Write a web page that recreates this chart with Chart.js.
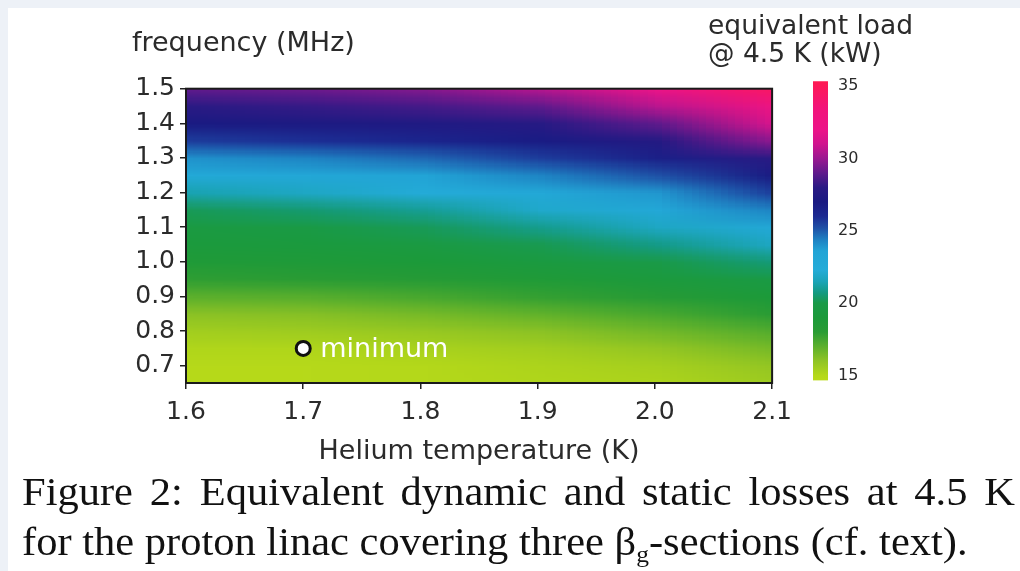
<!DOCTYPE html>
<html>
<head>
<meta charset="utf-8">
<script src="https://cdn.jsdelivr.net/npm/chart.js@4.4.1/dist/chart.umd.min.js"></script>
<style>
  html, body { margin: 0; padding: 0; }
  body { width: 1020px; height: 571px; background: #edf1f7; position: relative; overflow: hidden; }
  #panel { position: absolute; left: 8px; top: 8px; right: 0; bottom: 0; background: #fff; }
  #chart { position: absolute; left: 132px; top: 0; }
  #bar { position: absolute; left: 708px; top: 0; }
  .cap { position: absolute; left: 22px; width: 911px; font-family: 'Liberation Serif', 'Times New Roman', serif;
         font-size: 39px; line-height: 44px; color: #111; transform-origin: 0 0; transform: scaleX(1.09); white-space: nowrap; }
  #cap1 { top: 470px; text-align: justify; text-align-last: justify; white-space: normal; }
  #cap2 { top: 520px; }
  sub { font-size: 60%; vertical-align: -7px; line-height: 0; }
</style>
</head>
<body>
<div id="panel"></div>
<canvas id="chart" width="668" height="475"></canvas>
<canvas id="bar" width="312" height="400"></canvas>
<div class="cap" id="cap1">Figure 2: Equivalent dynamic and static losses at 4.5 K</div>
<div class="cap" id="cap2">for the proton linac covering three &beta;<sub>g</sub>-sections (cf. text).</div>
<script>
'use strict';

// grid of the map: helium temperature (K) by rf frequency (MHz)
const temperatures = [1.6, 1.7, 1.8, 1.9, 2.0, 2.1];
const frequencies = [1.50, 1.45, 1.40, 1.35, 1.30, 1.25, 1.20, 1.15, 1.10, 1.05,
                     1.00, 0.95, 0.90, 0.85, 0.80, 0.75, 0.70, 0.65];
// equivalent load @ 4.5 K (kW), one row per frequency, one column per temperature
const loadKW = [
    [29.0, 29.2, 29.6, 30.5, 32.0, 34.5],
    [28.0, 28.2, 28.5, 29.0, 30.6, 32.6],
    [27.0, 27.2, 27.4, 27.8, 29.0, 31.4],
    [25.6, 25.9, 26.3, 26.9, 27.6, 29.8],
    [24.0, 24.3, 24.8, 25.6, 26.6, 28.0],
    [22.8, 23.1, 23.6, 24.3, 25.2, 27.0],
    [21.4, 21.8, 22.4, 23.0, 23.9, 25.6],
    [20.2, 20.5, 21.0, 22.0, 22.9, 24.3],
    [19.6, 19.8, 20.2, 20.9, 21.8, 23.0],
    [19.2, 19.3, 19.6, 20.1, 20.8, 21.8],
    [18.7, 18.8, 19.0, 19.4, 20.0, 20.6],
    [17.9, 18.0, 18.3, 18.7, 19.2, 19.8],
    [17.0, 17.1, 17.4, 17.8, 18.3, 19.0],
    [16.1, 16.2, 16.5, 16.9, 17.4, 18.1],
    [15.5, 15.6, 15.8, 16.1, 16.6, 17.2],
    [15.1, 15.1, 15.3, 15.5, 15.9, 16.5],
    [14.9, 14.9, 15.0, 15.2, 15.4, 15.9],
    [14.8, 14.9, 15.0, 15.1, 15.2, 15.6]
];
const minimumPoint = [{ x: 1.7, y: 0.75 }];
const minimumLabel = 'minimum';

const xTicks = [1.6, 1.7, 1.8, 1.9, 2.0, 2.1];
const yTicks = [0.7, 0.8, 0.9, 1.0, 1.1, 1.2, 1.3, 1.4, 1.5];
const colorbarTicks = [15, 20, 25, 30, 35];
const colorbarRange = [14.66, 35.34];

// colour scale of the map
const cmapValues = [14.5, 15, 16, 17, 18, 19, 20, 20.7, 21.5, 22.3, 23.6, 24.4, 25.2, 26, 27, 28, 29, 30, 31, 32, 33.5, 35.4];
const cmapColors = ['#bcdc18', '#b4d81a', '#90c424', '#5cb02c', '#2a9c34', '#1c9a3a', '#1a9a48', '#139a80',
                    '#1aa4b8', '#24acd8', '#22a4d6', '#1e80c2', '#1f50a6', '#1c2a92', '#1a1a82', '#2a1a84',
                    '#601a8c', '#9a1890', '#d0148e', '#ec1488', '#f2147a', '#ff1a50'];

const FONT = 'DejaVu Sans';
const TEXT = '#2b2b2b';

function hexToRgb(h) {
    return [1, 3, 5].map(i => parseInt(h.slice(i, i + 2), 16));
}

function loadColor(v) {
    let i = 1;
    while (i < cmapValues.length - 1 && v > cmapValues[i]) i++;
    let t = (v - cmapValues[i - 1]) / (cmapValues[i] - cmapValues[i - 1]);
    t = Math.max(0, Math.min(1, t));
    const a = hexToRgb(cmapColors[i - 1]);
    const b = hexToRgb(cmapColors[i]);
    return a.map((c, k) => Math.round(c + (b[k] - c) * t));
}

// paints the load grid into the chart area through the x / y scales
const heatmapPlugin = {
    id: 'heatmap',
    beforeDatasetsDraw(chart) {
        const { ctx, chartArea, scales: { x, y } } = chart;
        const cols = temperatures.length;
        const rows = frequencies.length;
        const off = document.createElement('canvas');
        off.width = cols;
        off.height = rows;
        const octx = off.getContext('2d');
        const img = octx.createImageData(cols, rows);
        loadKW.forEach((row, r) => row.forEach((v, c) => {
            const rgb = loadColor(v);
            const k = (r * cols + c) * 4;
            img.data[k] = rgb[0];
            img.data[k + 1] = rgb[1];
            img.data[k + 2] = rgb[2];
            img.data[k + 3] = 255;
        }));
        octx.putImageData(img, 0, 0);

        const x0 = x.getPixelForValue(temperatures[0]);
        const x1 = x.getPixelForValue(temperatures[cols - 1]);
        const y0 = y.getPixelForValue(frequencies[0]);
        const y1 = y.getPixelForValue(frequencies[rows - 1]);
        ctx.save();
        ctx.imageSmoothingEnabled = true;
        ctx.imageSmoothingQuality = 'low';
        ctx.drawImage(off, 0.5, 0.5, cols - 1, rows - 1, x0, y0, x1 - x0, y1 - y0);
        ctx.strokeStyle = '#1a1a1a';
        ctx.lineWidth = 2;
        ctx.strokeRect(chartArea.left, chartArea.top, chartArea.width, chartArea.height);
        ctx.restore();
    },
    afterDatasetsDraw(chart) {
        const { ctx, scales: { x, y } } = chart;
        const px = x.getPixelForValue(minimumPoint[0].x);
        const py = y.getPixelForValue(minimumPoint[0].y);
        ctx.save();
        ctx.fillStyle = '#ffffff';
        ctx.font = '27px "' + FONT + '"';
        ctx.textBaseline = 'middle';
        ctx.fillText(minimumLabel, px + 17, py + 2);
        ctx.restore();
    }
};

const tickFont = { family: FONT, size: 25 };

new Chart(document.getElementById('chart'), {
    type: 'scatter',
    data: {
        datasets: [{
            data: minimumPoint,
            pointRadius: 7,
            pointBackgroundColor: '#ffffff',
            pointBorderColor: '#111111',
            pointBorderWidth: 3
        }]
    },
    options: {
        responsive: false,
        animation: false,
        layout: { padding: { left: 0, right: 24, top: 0, bottom: 2 } },
        plugins: {
            legend: { display: false },
            tooltip: { enabled: false },
            title: {
                display: true,
                text: 'frequency (MHz)',
                align: 'start',
                color: TEXT,
                font: { family: FONT, size: 27, weight: 'normal', lineHeight: 1.1 },
                padding: { top: 29, bottom: 30 }
            }
        },
        scales: {
            x: {
                type: 'linear',
                min: 1.6,
                max: 2.1,
                afterBuildTicks: s => { s.ticks = xTicks.map(v => ({ value: v })); },
                afterFit: s => { s.height = 90; },
                ticks: { callback: v => v.toFixed(1), color: TEXT, font: tickFont, padding: 8, maxRotation: 0, autoSkip: false },
                grid: { drawOnChartArea: false, tickLength: 6, color: '#222', lineWidth: 1.5 },
                border: { display: false },
                title: {
                    display: true,
                    text: 'Helium temperature (K)',
                    color: TEXT,
                    font: { family: FONT, size: 27 },
                    padding: { top: 0, bottom: 5 }
                }
            },
            y: {
                type: 'linear',
                min: 0.65,
                max: 1.5,
                afterBuildTicks: s => { s.ticks = yTicks.map(v => ({ value: v })); },
                afterFit: s => { s.width = 54; },
                ticks: { callback: v => v.toFixed(1), color: TEXT, font: tickFont, padding: 5, autoSkip: false },
                grid: { drawOnChartArea: false, tickLength: 6, color: '#222', lineWidth: 1.5 },
                border: { display: false }
            }
        }
    },
    plugins: [heatmapPlugin]
});

// colour bar
new Chart(document.getElementById('bar'), {
    type: 'bar',
    data: {
        labels: ['load'],
        datasets: [{
            data: [colorbarRange],
            yAxisID: 'y',
            barPercentage: 1,
            categoryPercentage: 1,
            borderWidth: 0,
            backgroundColor: c => {
                const { ctx, chartArea, scales } = c.chart;
                if (!chartArea) return cmapColors[0];
                const first = cmapValues[0];
                const last = cmapValues[cmapValues.length - 1];
                const g = ctx.createLinearGradient(0, scales.y.getPixelForValue(first), 0, scales.y.getPixelForValue(last));
                cmapValues.forEach((v, i) => g.addColorStop((v - first) / (last - first), cmapColors[i]));
                return g;
            }
        }]
    },
    options: {
        responsive: false,
        animation: false,
        layout: { padding: { left: 0, right: 0, top: 0, bottom: 12 } },
        plugins: {
            legend: { display: false },
            tooltip: { enabled: false },
            title: {
                display: true,
                text: ['equivalent load', '@ 4.5 K (kW)'],
                align: 'start',
                color: TEXT,
                font: { family: FONT, size: 26.5, weight: 'normal', lineHeight: 1.06 },
                padding: { top: 13, bottom: 12 }
            }
        },
        scales: {
            x: { display: false },
            side: {
                type: 'linear',
                axis: 'y',
                position: 'left',
                afterFit: s => { s.width = 105; },
                ticks: { display: false },
                grid: { display: false },
                border: { display: false }
            },
            y: {
                type: 'linear',
                position: 'right',
                min: colorbarRange[0],
                max: colorbarRange[1],
                afterBuildTicks: s => { s.ticks = colorbarTicks.map(v => ({ value: v })); },
                afterFit: s => { s.width = 192; },
                ticks: { color: TEXT, font: { family: FONT, size: 16 }, padding: 10 },
                grid: { display: false, drawTicks: false },
                border: { display: false }
            }
        }
    }
});
</script>
</body>
</html>
